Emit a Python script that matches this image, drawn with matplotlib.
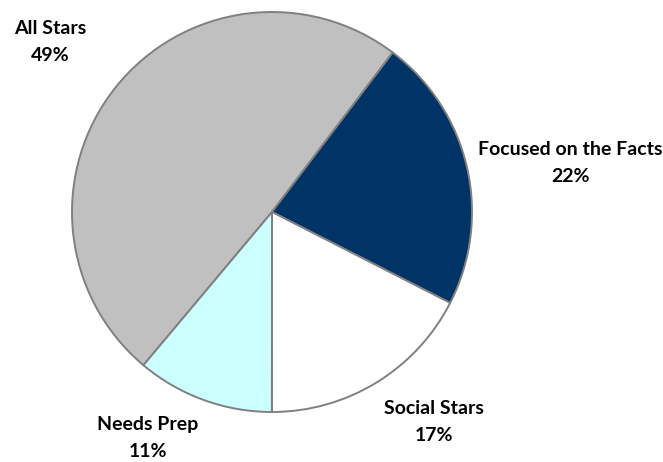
import numpy as np
import matplotlib.pyplot as plt

# segments, clockwise starting from the lower left edge of "All Stars"
labels = ['All Stars', 'Focused on the Facts', 'Social Stars', 'Needs Prep']
shares = [49.2, 22.2, 17.5, 11.1]
pct_text = ['49%', '22%', '17%', '11%']
colors = ['#C0C0C0', '#003366', '#FFFFFF', '#CCFFFF']

# label centres (in pie radius units, centre = 0,0)
label_pos = [(-1.11, 0.85), (1.49, 0.245), (0.81, -1.05), (-0.62, -1.13)]

fig = plt.figure(figsize=(6.63, 4.62), dpi=100)
ax = fig.add_axes([0, 0, 1, 1])

wedges, _ = ax.pie(shares, colors=colors, startangle=230, counterclock=False,
                   radius=1.0, center=(0, 0),
                   wedgeprops=dict(edgecolor='#808080', linewidth=1.4))

for lab, pct, (x, y) in zip(labels, pct_text, label_pos):
    ax.text(x, y, lab + '\n' + pct, ha='center', va='center',
            fontsize=14, fontweight='bold', family=['Lato', 'DejaVu Sans'],
            linespacing=1.7, color='black')

ax.set_xlim(-272 / 200, (663 - 272) / 200)
ax.set_ylim(-(462 - 212) / 200, 212 / 200)
ax.set_aspect('equal')
ax.axis('off')

fig.savefig('out.png', dpi=100, facecolor='white')
